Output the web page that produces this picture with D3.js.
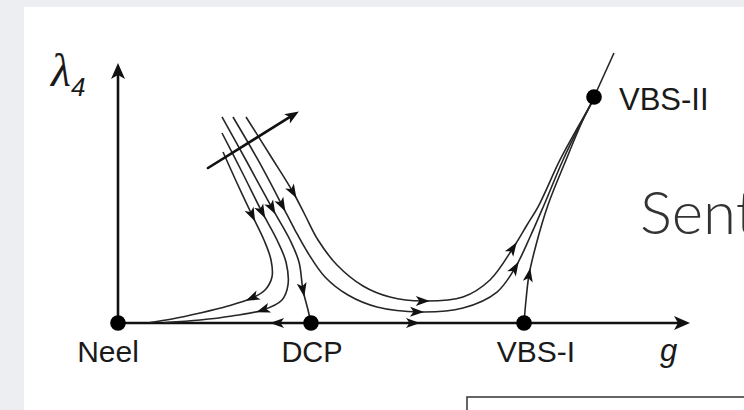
<!DOCTYPE html>
<html>
<head>
<meta charset="utf-8">
<script src="https://cdn.jsdelivr.net/npm/d3@7"></script>
<style>
  html, body { margin: 0; padding: 0; background: #edeef2; }
  svg { display: block; }
</style>
</head>
<body>
<svg id="chart" width="744" height="410"></svg>
<script>
// RG flow in the (g, lambda4) plane.
// Fixed points
const fixedPoints = [
  { name: "Neel",   g: 0,     l: 0 },
  { name: "DCP",    g: 3.374, l: 0 },
  { name: "VBS-I",  g: 7.098, l: 0 },
  { name: "VBS-II", g: 8.322, l: 4.346 }
];

// Flow trajectories, [g, lambda4] pairs
const flowNeelUpper = [[1.836,3.288],[2.080,2.692],[2.343,2.077],[2.552,1.596],[2.675,1.212],[2.692,0.885],[2.570,0.635],[2.343,0.481],[1.923,0.327],[1.434,0.192],[0.944,0.077],[0.559,0.01]];
const flowNeelLower = [[1.818,3.654],[2.168,2.904],[2.517,2.135],[2.780,1.596],[2.937,1.173],[2.972,0.731],[2.867,0.442],[2.535,0.25],[1.993,0.135],[1.434,0.058],[0.822,0.01]];
const flowCritical  = [[1.818,3.962],[2.255,3.096],[2.692,2.212],[3.007,1.596],[3.164,1.173],[3.234,0.635],[3.322,0.25],[3.374,0]];
const flowVbsLower  = [[2.010,3.962],[2.448,3.135],[2.867,2.269],[3.094,1.788],[3.322,1.346],[3.619,0.885],[4.021,0.538],[4.528,0.308],[5.280,0.212],[6.031,0.288],[6.626,0.596],[6.941,1.058],[7.203,1.654],[7.448,2.269],[7.780,3.135],[8.077,3.808],[8.287,4.250]];
const flowVbsUpper  = [[2.238,3.962],[2.657,3.231],[3.059,2.519],[3.269,2.077],[3.497,1.596],[3.829,1.115],[4.283,0.712],[4.755,0.5],[5.332,0.423],[6.031,0.5],[6.503,0.827],[6.906,1.442],[7.150,1.885],[7.360,2.269],[7.727,3.135],[8.042,3.769],[8.269,4.212]];
const flowFromVbsI  = [[7.098,0],[7.133,0.442],[7.185,0.923],[7.308,1.5],[7.517,2.269],[7.832,3.135],[8.112,3.865],[8.287,4.250]];
const flowBeyondII  = [[8.322,4.346],[8.671,5.192]];

// Arrowhead locations on each trajectory
const flowArrowsAt = [
  [[2.343,2.077],[2.343,0.481]],
  [[2.517,2.135],[2.535,0.25]],
  [[2.692,2.212],[3.234,0.635]],
  [[2.867,2.269],[5.227,0.212],[6.941,1.058]],
  [[3.059,2.519],[5.332,0.423],[6.906,1.442]],
  [[7.185,0.923]],
  []
];

// Flow along the g axis: position and sense
const axisFlowAt  = [2.780, 5.157];
const axisFlowDir = [-1, 1];

// Direction of increasing parameter across the family of flows
const familyArrow = [[1.573,2.981],[3.147,4.058]];

// Axis extents
const gMax = 10, lMax = 5;

const flows = [flowNeelUpper, flowNeelLower, flowCritical, flowVbsLower, flowVbsUpper, flowFromVbsI, flowBeyondII];

const svg = d3.select("#chart");
const W = 744, H = 410;

// Slide panel
svg.append("rect").attr("x", 0).attr("y", 0).attr("width", W).attr("height", H).attr("fill", "#edeef2");
svg.append("rect").attr("x", 24).attr("y", 7).attr("width", W - 24).attr("height", H - 7).attr("fill", "#ffffff");

const x = d3.scaleLinear().domain([0, gMax]).range([118, 690]);
const y = d3.scaleLinear().domain([0, lMax]).range([323, 63]);

const line = d3.line().x(d => x(d[0])).y(d => y(d[1])).curve(d3.curveCatmullRom.alpha(0.5));

const g = svg.append("g");

// Barbed arrowhead, centred at (px,py), pointing along angle a
function arrowHead(px, py, a, len, wid, fill) {
  const c = Math.cos(a), s = Math.sin(a);
  const pts = [[len/2, 0], [-len/2, -wid/2], [-len/4, 0], [-len/2, wid/2]];
  const p = pts.map(([u, v]) => [px + u*c - v*s, py + u*s + v*c]);
  g.append("path")
    .attr("d", "M" + p.map(q => q.join(",")).join("L") + "Z")
    .attr("fill", fill);
}

// Axes
g.append("line").attr("x1", x(0)).attr("y1", y(0)).attr("x2", x(0)).attr("y2", y(lMax) + 10)
  .attr("stroke", "#111").attr("stroke-width", 2.6);
g.append("line").attr("x1", x(0)).attr("y1", y(0)).attr("x2", x(gMax) - 10).attr("y2", y(0))
  .attr("stroke", "#111").attr("stroke-width", 2.6);
(function axisTips() {
  const tipY = [[x(0), y(lMax)], [x(0) - 7, y(lMax) + 16], [x(0), y(lMax) + 12], [x(0) + 7, y(lMax) + 16]];
  g.append("path").attr("d", "M" + tipY.map(q => q.join(",")).join("L") + "Z").attr("fill", "#111");
  const tipX = [[x(gMax), y(0)], [x(gMax) - 16, y(0) - 7], [x(gMax) - 12, y(0)], [x(gMax) - 16, y(0) + 7]];
  g.append("path").attr("d", "M" + tipX.map(q => q.join(",")).join("L") + "Z").attr("fill", "#111");
})();

// Flow trajectories
flows.forEach((f, i) => {
  const p = g.append("path")
    .attr("d", line(f))
    .attr("fill", "none")
    .attr("stroke", "#262626")
    .attr("stroke-width", 1.6);
  const node = p.node();
  const total = node.getTotalLength();
  flowArrowsAt[i].forEach(t => {
    const tx = x(t[0]), ty = y(t[1]);
    let best = 0, bestD = Infinity;
    for (let s = 0; s <= total; s += 0.5) {
      const q = node.getPointAtLength(s);
      const d = (q.x - tx) ** 2 + (q.y - ty) ** 2;
      if (d < bestD) { bestD = d; best = s; }
    }
    const a0 = node.getPointAtLength(Math.max(0, best - 3));
    const a1 = node.getPointAtLength(Math.min(total, best + 3));
    const c = node.getPointAtLength(best);
    arrowHead(c.x, c.y, Math.atan2(a1.y - a0.y, a1.x - a0.x), 14, 10, "#111");
  });
});

// Flow arrows along the g axis
axisFlowAt.forEach((v, i) => {
  arrowHead(x(v), y(0), axisFlowDir[i] > 0 ? 0 : Math.PI, 14, 10, "#111");
});

// Family direction arrow
(function () {
  const [a, b] = familyArrow;
  const x1 = x(a[0]), y1 = y(a[1]), x2 = x(b[0]), y2 = y(b[1]);
  const ang = Math.atan2(y2 - y1, x2 - x1);
  g.append("line").attr("x1", x1).attr("y1", y1)
    .attr("x2", x2 - 8 * Math.cos(ang)).attr("y2", y2 - 8 * Math.sin(ang))
    .attr("stroke", "#111").attr("stroke-width", 2.6).attr("stroke-linecap", "round");
  arrowHead(x2 - 6 * Math.cos(ang), y2 - 6 * Math.sin(ang), ang, 14, 11, "#111");
})();

// Fixed points
g.selectAll("circle.fp").data(fixedPoints).join("circle")
  .attr("class", "fp")
  .attr("cx", d => x(d.g)).attr("cy", d => y(d.l)).attr("r", 7.8)
  .attr("fill", "#000");

// Labels
const labelFont = "'Liberation Sans', Arial, Helvetica, sans-serif";
const fpLabel = [
  { text: "Neel",   dx: -10, dy: 39, anchor: "middle", size: 30 },
  { text: "DCP",    dx: 1,   dy: 39, anchor: "middle", size: 29 },
  { text: "VBS-I",  dx: 12,  dy: 39, anchor: "middle", size: 30 },
  { text: "VBS-II", dx: 25,  dy: 13, anchor: "start",  size: 31 }
];
fixedPoints.forEach((d, i) => {
  g.append("text")
    .attr("x", x(d.g) + fpLabel[i].dx).attr("y", y(d.l) + fpLabel[i].dy)
    .attr("text-anchor", fpLabel[i].anchor)
    .attr("font-family", labelFont).attr("font-size", fpLabel[i].size).attr("fill", "#1a1a1a")
    .text(fpLabel[i].text);
});

// Axis titles
g.append("text").attr("x", x(gMax) - 30).attr("y", y(0) + 38)
  .attr("font-family", labelFont).attr("font-style", "italic").attr("font-size", 31).attr("fill", "#1a1a1a")
  .text("g");
const lam = g.append("text").attr("x", 51).attr("y", 86).attr("fill", "#1a1a1a");
lam.append("tspan").attr("font-family", "'Liberation Serif', 'Times New Roman', serif")
  .attr("font-style", "italic").attr("font-size", 46).text("λ");
lam.append("tspan").attr("font-family", labelFont).attr("font-style", "italic")
  .attr("font-size", 26).attr("dy", 10).attr("dx", 0).text("4");

// Slide text beside the figure
svg.append("text").attr("x", 640).attr("y", 234)
  .attr("font-family", "Lato, 'Open Sans', sans-serif").attr("font-weight", 300)
  .attr("font-size", 60).attr("fill", "#333333")
  .text("Sent");

// Frame of the next box on the slide
svg.append("path").attr("d", "M467,410 V397 H744")
  .attr("fill", "none").attr("stroke", "#333").attr("stroke-width", 1.5);
</script>
</body>
</html>
